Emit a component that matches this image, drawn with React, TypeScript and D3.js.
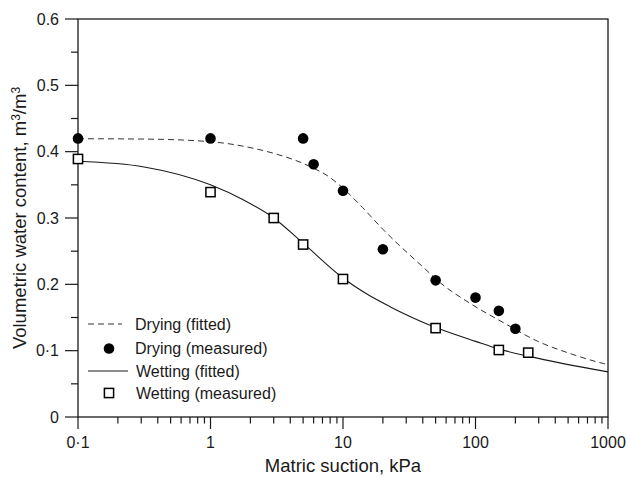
import React from "react";
import * as d3 from "d3";

// Measured points: suction (kPa), volumetric water content (m3/m3)
const dryingSuction = [0.1, 1, 5, 6, 10, 20, 50, 100, 150, 200];
const dryingTheta = [0.42, 0.42, 0.42, 0.381, 0.341, 0.253, 0.206, 0.18, 0.16, 0.133];

const wettingSuction = [0.1, 1, 3, 5, 10, 50, 150, 250];
const wettingTheta = [0.389, 0.339, 0.3, 0.26, 0.208, 0.134, 0.101, 0.097];

// Fitted curves, sampled along the suction range
const dryingFitSuction = [0.1, 0.316, 1, 2.12, 3.18, 4.5, 6, 7.6, 10, 14, 20, 40.7, 54.5, 91.6, 164, 292, 521, 929, 1000];
const dryingFitTheta = [0.4195, 0.419, 0.415, 0.405, 0.396, 0.386, 0.375, 0.364, 0.345, 0.316, 0.283, 0.225, 0.202, 0.171, 0.1418, 0.1145, 0.0955, 0.0805, 0.079];

const wettingFitSuction = [0.1, 0.316, 1, 1.78, 3, 5, 10, 14.4, 22.8, 34.2, 51.4, 100, 150, 254, 1000];
const wettingFitTheta = [0.3855, 0.377, 0.35, 0.327, 0.3, 0.262, 0.2096, 0.188, 0.166, 0.149, 0.134, 0.114, 0.1025, 0.0914, 0.068];

const xMajorTicks = [0.1, 1, 10, 100, 1000];
const xTickLabels = ["0·1", "1", "10", "100", "1000"];
const yMajorTicks = [0, 0.1, 0.2, 0.3, 0.4, 0.5, 0.6];
const yTickLabels = ["0", "0·1", "0.2", "0.3", "0.4", "0.5", "0.6"];

const legendItems = ["Drying (fitted)", "Drying (measured)", "Wetting (fitted)", "Wetting (measured)"];

const W = 626;
const H = 477;
const margin = { left: 78, right: 18, top: 19, bottom: 60 };
const FONT = "'Liberation Sans', Arial, sans-serif";
const INK = "#1a1a1a";

export default function App() {
  const x = d3
    .scaleLog()
    .domain([0.1, 1000])
    .range([margin.left, W - margin.right]);
  const y = d3
    .scaleLinear()
    .domain([0, 0.6])
    .range([H - margin.bottom, margin.top]);

  const [x0, x1] = x.range();
  const [yb, yt] = y.range();

  const xMinor: number[] = [];
  for (let d = 0.1; d < 1000; d *= 10) {
    for (let k = 2; k <= 9; k++) xMinor.push(d * k);
  }
  const yMinor = d3.range(0.05, 0.6, 0.1);

  const line = d3
    .line<[number, number]>()
    .x((d) => x(d[0]))
    .y((d) => y(d[1]))
    .curve(d3.curveMonotoneX);

  const dryFit = line(dryingFitSuction.map((s, i) => [s, dryingFitTheta[i]]) as [number, number][]) || "";
  const wetFit = line(wettingFitSuction.map((s, i) => [s, wettingFitTheta[i]]) as [number, number][]) || "";

  const legendX = 88;
  const legendRows = [324, 348.5, 371, 393];

  return (
    <svg width={W} height={H} style={{ position: "absolute", left: 0, top: 0, background: "#fff" }} fontFamily={FONT}>
      <rect x={0} y={0} width={W} height={H} fill="#fff" />

      {/* frame */}
      <rect x={x0} y={yt} width={x1 - x0} height={yb - yt} fill="none" stroke={INK} strokeWidth={1.3} />

      {/* y ticks */}
      {yMajorTicks.map((v, i) => (
        <g key={"ym" + v}>
          <line x1={x0 - 13} x2={x0} y1={y(v)} y2={y(v)} stroke={INK} strokeWidth={1.2} />
          <text x={x0 - 19} y={y(v)} dy="0.36em" textAnchor="end" fontSize={16} fill={INK}>
            {yTickLabels[i]}
          </text>
        </g>
      ))}
      {yMinor.map((v) => (
        <line key={"yn" + v} x1={x0 - 7} x2={x0} y1={y(v)} y2={y(v)} stroke={INK} strokeWidth={1.2} />
      ))}

      {/* x ticks */}
      {xMajorTicks.map((v, i) => (
        <g key={"xm" + v}>
          <line x1={x(v)} x2={x(v)} y1={yb} y2={yb + 12} stroke={INK} strokeWidth={1.2} />
          <text x={x(v)} y={448} textAnchor="middle" fontSize={16} fill={INK}>
            {xTickLabels[i]}
          </text>
        </g>
      ))}
      {xMinor.map((v) => (
        <line key={"xn" + v} x1={x(v)} x2={x(v)} y1={yb} y2={yb + 6.5} stroke={INK} strokeWidth={1.2} />
      ))}

      {/* axis titles */}
      <text x={(x0 + x1) / 2} y={471.5} textAnchor="middle" fontSize={18.5} fill={INK}>
        Matric suction, kPa
      </text>
      <text
        transform={`translate(25.5,${(yt + yb) / 2}) rotate(-90)`}
        textAnchor="middle"
        fontSize={18.5}
        fill={INK}
      >
        Volumetric water content, m
        <tspan fontSize={12} dy={-6}>3</tspan>
        <tspan dy={6}>/m</tspan>
        <tspan fontSize={12} dy={-6}>3</tspan>
      </text>

      {/* fitted curves */}
      <path d={dryFit} fill="none" stroke="#333" strokeWidth={1} strokeDasharray="6,4" />
      <path d={wetFit} fill="none" stroke={INK} strokeWidth={1.1} />

      {/* measured points */}
      {dryingSuction.map((s, i) => (
        <circle key={"dp" + i} cx={x(s)} cy={y(dryingTheta[i])} r={5.3} fill="#000" />
      ))}
      {wettingSuction.map((s, i) => (
        <rect
          key={"wp" + i}
          x={x(s) - 4.6}
          y={y(wettingTheta[i]) - 4.6}
          width={9.2}
          height={9.2}
          fill="#fff"
          stroke="#000"
          strokeWidth={1.5}
        />
      ))}

      {/* legend */}
      <line x1={legendX} x2={legendX + 34} y1={legendRows[0]} y2={legendRows[0]} stroke="#333" strokeWidth={1} strokeDasharray="6,4" />
      <circle cx={legendX + 21} cy={legendRows[1]} r={5.3} fill="#000" />
      <line x1={legendX} x2={legendX + 40} y1={legendRows[2]} y2={legendRows[2]} stroke={INK} strokeWidth={1.1} />
      <rect x={legendX + 21 - 4.6} y={legendRows[3] - 4.6} width={9.2} height={9.2} fill="#fff" stroke="#000" strokeWidth={1.5} />
      {legendItems.map((t, i) => (
        <text key={t} x={i < 2 ? 135 : 136} y={legendRows[i]} dy="0.36em" fontSize={16} fill={INK}>
          {t}
        </text>
      ))}
    </svg>
  );
}
